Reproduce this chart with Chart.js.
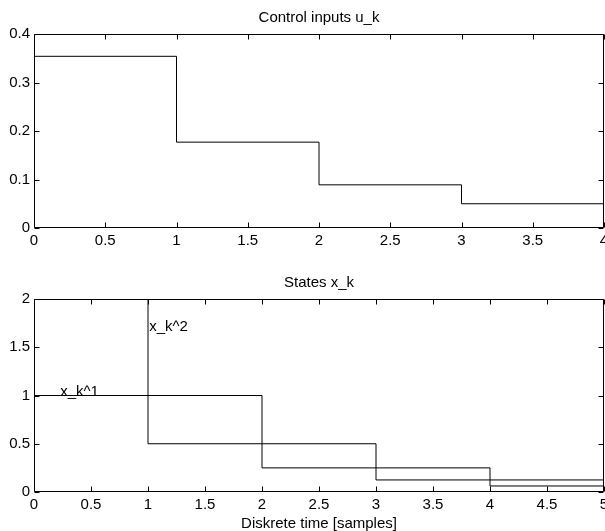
<!DOCTYPE html>
<html>
<head>
<meta charset="utf-8">
<script src="https://cdn.jsdelivr.net/npm/chart.js@4/dist/chart.umd.min.js"></script>
<style>
  html, body { margin: 0; padding: 0; background: #fff; overflow: hidden; }
  canvas { position: absolute; left: 0; }
  #c1 { top: 0; }
  #c2 { top: 258px; }
</style>
</head>
<body>
<canvas id="c1" width="605" height="258"></canvas>
<canvas id="c2" width="605" height="273"></canvas>
<script>
// ---- data ----
const uSamples = [0, 1, 2, 3, 4];          // sample instants (last = end of stair)
const uValues  = [0.354, 0.177, 0.089, 0.05];
const xSamples = [0, 1, 2, 3, 4, 5];
const x1Values = [1, 1, 0.25, 0.25, 0.0625];
const x2Values = [2, 0.5, 0.5, 0.125, 0.125];
const topYTicks = [0, 0.1, 0.2, 0.3, 0.4];
const botYTicks = [0, 0.5, 1, 1.5, 2];
const topTitle = 'Control inputs u_k';
const botTitle = 'States x_k';
const xAxisTitle = 'Diskrete time [samples]';
const seriesNames = ['x_k^1', 'x_k^2'];

// build stair points (hold last value until end)
function stairs(ts, vals) {
  const pts = vals.map((v, i) => ({ x: ts[i], y: v }));
  pts.push({ x: ts[vals.length], y: vals[vals.length - 1] });
  return pts;
}

Chart.defaults.font.family = '"Liberation Sans", Arial, Helvetica, sans-serif';
Chart.defaults.font.size = 15;
Chart.defaults.color = '#000';

const FONT = '15px "Liberation Sans", Arial, Helvetica, sans-serif';
const fmt = v => String(+(+v).toFixed(3));

const boxPlugin = {
  id: 'box',
  afterDraw(chart) {
    const { ctx, chartArea: a, scales } = chart;
    const xs = scales.x, ys = scales.y;
    const L = Math.round(a.left) + 0.5, R = Math.round(a.right) - 0.5;
    const T = Math.round(a.top) + 0.5, B = Math.round(a.bottom) - 0.5;
    ctx.save();
    ctx.strokeStyle = '#000';
    ctx.lineWidth = 1;
    ctx.beginPath();
    ctx.rect(L, T, R - L, B - T);
    const tl = 5;
    xs.ticks.forEach(t => {
      const p = Math.round(xs.getPixelForValue(t.value)) + 0.5;
      ctx.moveTo(p, B); ctx.lineTo(p, B - tl);
      ctx.moveTo(p, T); ctx.lineTo(p, T + tl);
    });
    ys.ticks.forEach(t => {
      const p = Math.round(ys.getPixelForValue(t.value)) + 0.5;
      ctx.moveTo(L, p); ctx.lineTo(L + tl, p);
      ctx.moveTo(R, p); ctx.lineTo(R - tl, p);
    });
    ctx.stroke();
    // text annotations
    const notes = chart.options.plugins.box && chart.options.plugins.box.notes;
    if (notes) {
      ctx.fillStyle = '#000';
      ctx.font = FONT;
      ctx.textAlign = 'left';
      notes.forEach(n => {
        ctx.textBaseline = n.baseline;
        ctx.fillText(n.text, xs.getPixelForValue(n.x), ys.getPixelForValue(n.y) + n.dy);
      });
    }
    ctx.restore();
  }
};

function makeOptions(cfg) {
  return {
    responsive: false,
    animation: false,
    events: [],
    layout: { autoPadding: false, padding: { left: 0, right: 1, top: 0, bottom: 0 } },
    plugins: {
      legend: { display: false },
      tooltip: { enabled: false },
      title: {
        display: true,
        fullSize: false,
        text: cfg.title,
        color: '#000',
        font: { size: 15, weight: 'normal', lineHeight: 1.2 },
        padding: { top: cfg.titleTop, bottom: cfg.titleBottom }
      },
      box: { notes: cfg.notes }
    },
    scales: {
      x: {
        type: 'linear',
        min: 0, max: cfg.xMax,
        grid: { display: false, drawTicks: false },
        border: { display: false },
        ticks: { stepSize: 0.5, padding: 4, maxRotation: 0, autoSkip: false, color: '#000', callback: fmt },
        title: cfg.xTitle ? {
          display: true, text: cfg.xTitle, color: '#000',
          font: { size: 15, lineHeight: 1 }, padding: { top: 0, bottom: 0 }
        } : { display: false },
        afterFit(s) { s.height = cfg.xHeight; s.paddingLeft = 0; s.paddingRight = 0; }
      },
      y: {
        type: 'linear',
        min: cfg.yTicks[0], max: cfg.yTicks[cfg.yTicks.length - 1],
        grid: { display: false, drawTicks: false },
        border: { display: false },
        afterBuildTicks(s) { s.ticks = cfg.yTicks.map(v => ({ value: v })); },
        ticks: { padding: 4, color: '#000', callback: fmt },
        afterFit(s) { s.width = 34; s.paddingTop = 0; s.paddingBottom = 0; }
      }
    }
  };
}

new Chart(document.getElementById('c1'), {
  type: 'line',
  data: {
    datasets: [{
      data: stairs(uSamples, uValues),
      stepped: true,
      borderColor: '#000',
      borderWidth: 1,
      pointRadius: 0,
      fill: false
    }]
  },
  options: makeOptions({
    title: topTitle, titleTop: 8.7, titleBottom: 7.3,
    xMax: 4, xHeight: 30, yTicks: topYTicks
  }),
  plugins: [boxPlugin]
});

new Chart(document.getElementById('c2'), {
  type: 'line',
  data: {
    datasets: [
      { data: stairs(xSamples, x1Values), stepped: true, borderColor: '#000', borderWidth: 1, pointRadius: 0, fill: false },
      { data: stairs(xSamples, x2Values), stepped: true, borderColor: '#000', borderWidth: 1, pointRadius: 0, fill: false }
    ]
  },
  options: makeOptions({
    title: botTitle, titleTop: 15.8, titleBottom: 7.2,
    xMax: 5, xHeight: 39, yTicks: botYTicks, xTitle: xAxisTitle,
    notes: [
      { text: seriesNames[0], x: 0.23, y: 1.0, dy: 0, baseline: 'alphabetic' },
      { text: seriesNames[1], x: 1.01, y: 1.7, dy: -1.5, baseline: 'middle' }
    ]
  }),
  plugins: [boxPlugin]
});
</script>
</body>
</html>
